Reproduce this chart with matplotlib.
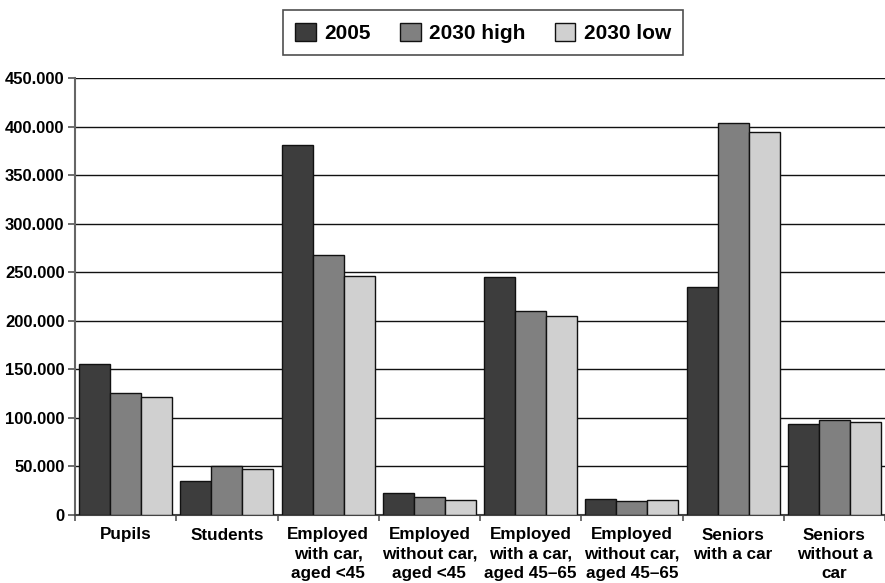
import matplotlib
matplotlib.use("Agg")
import matplotlib.pyplot as plt
from matplotlib.patches import Patch
from matplotlib.ticker import FuncFormatter, MultipleLocator
import numpy as np

plt.rcParams['font.family'] = ['Liberation Sans', 'DejaVu Sans']

categories = [
    "Pupils",
    "Students",
    "Employed\nwith car,\naged <45",
    "Employed\nwithout car,\naged <45",
    "Employed\nwith a car,\naged 45\u201365",
    "Employed\nwithout car,\naged 45\u201365",
    "Seniors\nwith a car",
    "Seniors\nwithout a\ncar",
]
series_names = ["2005", "2030 high", "2030 low"]
values_2005 = [156000, 35000, 381000, 22600, 245000, 16000, 235000, 94000]
values_2030_high = [126000, 50000, 268000, 18200, 210000, 14000, 404000, 98000]
values_2030_low = [121500, 47000, 246000, 15800, 205000, 15000, 394000, 96000]
colors = ["#3d3d3d", "#808080", "#d0d0d0"]

fig = plt.figure(figsize=(8.85, 5.83), dpi=100)
ax = fig.add_axes([75/885, 1-515/583, 1-75/885, (515-78)/583])

x = np.arange(len(categories))
w = 0.306
for i, (vals, c) in enumerate(zip([values_2005, values_2030_high, values_2030_low], colors)):
    ax.bar(x + (i-1)*w, vals, width=w, color=c, edgecolor="#111111", linewidth=1.0, zorder=3)

ax.set_xlim(-0.5, len(categories)-0.5)
ax.set_ylim(0, 450000)
ax.yaxis.set_major_locator(MultipleLocator(50000))
ax.yaxis.set_major_formatter(FuncFormatter(lambda v, p: "0" if v == 0 else f"{v/1000:.0f}.000"))
ax.grid(axis="y", color="#111111", linewidth=1.0, zorder=0)
ax.set_axisbelow(True)

ax.set_xticks(x)
ax.set_xticklabels(categories, fontweight="bold", fontsize=12.3, linespacing=1.36, va="top")
ax.tick_params(axis="x", which="major", length=0, pad=9)
ax.set_xticks(np.arange(-0.5, len(categories)-0.4, 1), minor=True)
ax.tick_params(axis="x", which="minor", length=4, width=1.2, color="#555555", direction="out")
ax.tick_params(axis="y", length=5, width=1.2, color="#555555", pad=2.5, labelsize=12)
for lbl in ax.get_yticklabels():
    lbl.set_fontweight("bold")

ax.spines["top"].set_visible(False)
ax.spines["right"].set_visible(False)
ax.spines["left"].set_color("#666666")
ax.spines["left"].set_linewidth(1.5)
ax.spines["bottom"].set_color("#444444")
ax.spines["bottom"].set_linewidth(1.5)

handles = [Patch(facecolor=c, edgecolor="#111111", linewidth=1.0) for c in colors]
leg = fig.legend(handles, series_names, loc="upper center", bbox_to_anchor=(483/885, 1-10/583),
                 ncol=3, frameon=True, fancybox=False, prop={"weight": "bold", "size": 15},
                 handlelength=1.0, handleheight=1.0, handletextpad=0.4, columnspacing=1.4,
                 borderpad=0.6, borderaxespad=0, edgecolor="#222222")
leg.get_frame().set_linewidth(1.2)

fig.savefig("out.png", dpi=100)
